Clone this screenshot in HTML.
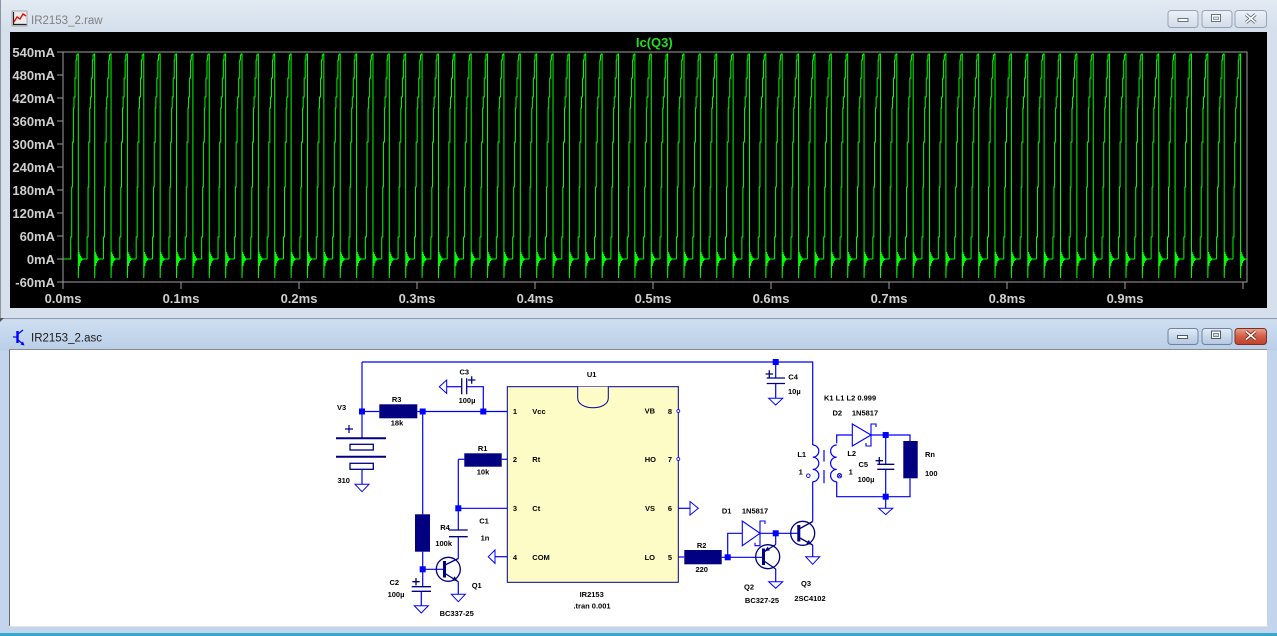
<!DOCTYPE html>
<html><head><meta charset="utf-8">
<style>
html,body{margin:0;padding:0;width:1277px;height:636px;overflow:hidden;background:#c4d6ec}
svg{display:block}
.w{stroke:#0000ff;stroke-width:1.2;fill:none}
.n{stroke:#000080;stroke-width:1.3;fill:none}
.g{stroke:#0000ff;stroke-width:1;fill:none}
.t{font-family:"Liberation Sans",sans-serif;font-weight:bold;font-size:7.5px;fill:#000}
.ax{font-family:"Liberation Sans",sans-serif;font-weight:bold;font-size:13px;fill:#cfcfcf}
.j{fill:#0000ff}
</style></head>
<body>
<svg width="1277" height="636" viewBox="0 0 1277 636" xmlns="http://www.w3.org/2000/svg">
<defs>
<linearGradient id="tI" x1="0" y1="0" x2="0" y2="1"><stop offset="0" stop-color="#e3eaf3"/><stop offset="1" stop-color="#d4dfeb"/></linearGradient>
<linearGradient id="tA" x1="0" y1="0" x2="0" y2="1"><stop offset="0" stop-color="#cfdff1"/><stop offset="1" stop-color="#b9cee7"/></linearGradient>
<linearGradient id="bI" x1="0" y1="0" x2="0" y2="1"><stop offset="0" stop-color="#eef2f7"/><stop offset="0.5" stop-color="#dfe6ef"/><stop offset="1" stop-color="#d3dce8"/></linearGradient>
<linearGradient id="bA" x1="0" y1="0" x2="0" y2="1"><stop offset="0" stop-color="#e4edf8"/><stop offset="0.5" stop-color="#c9d8ea"/><stop offset="1" stop-color="#b4c8e1"/></linearGradient>
<linearGradient id="bC" x1="0" y1="0" x2="0" y2="1"><stop offset="0" stop-color="#e9a28f"/><stop offset="0.5" stop-color="#d25d46"/><stop offset="1" stop-color="#c0412b"/></linearGradient>
<clipPath id="plot"><rect x="63" y="40" width="1184" height="250"/></clipPath>
<path id="pl" d="M70.7,259 v-22h1v-50h.7v-45h1v-34h.6v-11h1v-19h1v-18h.7v-5h1v-1h.6v224l.4-19l.3-7l.4 14l.4-12l.4 9l.5-7l.5 5l.5-3l.5 1.5l.5-.5h4.37" fill="none" stroke="#00ff00" stroke-width="1"/>
<g id="p8">
<use href="#pl" x="0"/><use href="#pl" x="16.37"/><use href="#pl" x="32.74"/><use href="#pl" x="49.11"/>
<use href="#pl" x="65.48"/><use href="#pl" x="81.85"/><use href="#pl" x="98.22"/><use href="#pl" x="114.59"/>
</g>
</defs>

<!-- ===== Top window (inactive) ===== -->
<rect x="0" y="0" width="1277" height="319" fill="#d6e0ec"/>
<rect x="0" y="0" width="1277" height="32" fill="url(#tI)"/>
<line x1="0.5" y1="0" x2="0.5" y2="319" stroke="#8c96a3"/>
<line x1="0" y1="318.5" x2="1277" y2="318.5" stroke="#8e9cb0"/>
<rect x="12" y="11" width="15" height="15" fill="#ececec" stroke="#9a9a9a" stroke-width="0.8"/>
<path d="M13.5,12 V24.5 H26.5" stroke="#202020" stroke-width="1.2" fill="none"/>
<path d="M14,22 L17,17 L20,19 L23,14 L26,16" stroke="#e01010" stroke-width="1.4" fill="none"/>
<text x="31" y="24" font-family="'Liberation Sans',sans-serif" font-size="11.5" fill="#808080">IR2153_2.raw</text>
<rect x="1168" y="10.5" width="30" height="17" rx="3" fill="url(#bI)" stroke="#95a3b8"/>
<rect x="1178" y="18.5" width="10" height="3" fill="#fff" stroke="#5a6678" stroke-width="0.9"/>
<rect x="1202" y="10.5" width="30" height="17" rx="3" fill="url(#bI)" stroke="#95a3b8"/>
<rect x="1211.5" y="14.5" width="9" height="7" fill="#fff" stroke="#5a6678" stroke-width="0.9"/>
<rect x="1213.5" y="17" width="5" height="2.5" fill="#dfe6ef" stroke="#5a6678" stroke-width="0.6"/>
<rect x="1235" y="10.5" width="31.5" height="17" rx="3" fill="url(#bI)" stroke="#95a3b8"/>
<path d="M1246,14.5 L1255.5,22.5 M1255.5,14.5 L1246,22.5" stroke="#5a6678" stroke-width="3.2"/>
<path d="M1246,14.5 L1255.5,22.5 M1255.5,14.5 L1246,22.5" stroke="#fff" stroke-width="1.6"/>

<rect x="10" y="32" width="1257" height="276" fill="#000"/>
<rect x="63" y="52" width="1184" height="230" fill="none" stroke="#a0a0a0" stroke-width="1"/>
<text x="654.3" y="47" text-anchor="middle" font-family="'Liberation Sans',sans-serif" font-weight="bold" font-size="13" fill="#22e022">Ic(Q3)</text>
<g stroke="#a0a0a0" stroke-width="1">
<path d="M57,52H63M57,75H63M57,98H63M57,121H63M57,144H63M57,167H63M57,190H63M57,213H63M57,236H63M57,259H63M57,282H63"/>
<path d="M63,282V289M181,282V289M299,282V289M417,282V289M535,282V289M653,282V289M771,282V289M889,282V289M1007,282V289M1125,282V289M1243,282V289"/>
</g>
<g class="ax" text-anchor="end">
<text x="55" y="57">540mA</text><text x="55" y="80">480mA</text><text x="55" y="103">420mA</text>
<text x="55" y="126">360mA</text><text x="55" y="149">300mA</text><text x="55" y="172">240mA</text>
<text x="55" y="195">180mA</text><text x="55" y="218">120mA</text><text x="55" y="241">60mA</text>
<text x="55" y="264">0mA</text><text x="55" y="287">-60mA</text>
</g>
<g class="ax" text-anchor="middle">
<text x="63" y="303">0.0ms</text><text x="181" y="303">0.1ms</text><text x="299" y="303">0.2ms</text>
<text x="417" y="303">0.3ms</text><text x="535" y="303">0.4ms</text><text x="653" y="303">0.5ms</text>
<text x="771" y="303">0.6ms</text><text x="889" y="303">0.7ms</text><text x="1007" y="303">0.8ms</text>
<text x="1125" y="303">0.9ms</text>
</g>
<g clip-path="url(#plot)">
<line x1="63" y1="259" x2="71" y2="259" stroke="#00ff00" stroke-width="1"/>
<use href="#p8" x="0"/><use href="#p8" x="130.96"/><use href="#p8" x="261.92"/>
<use href="#p8" x="392.88"/><use href="#p8" x="523.84"/><use href="#p8" x="654.8"/>
<use href="#p8" x="785.76"/><use href="#p8" x="916.72"/><use href="#p8" x="1047.68"/>
</g>

<!-- ===== Bottom window (active) ===== -->
<rect x="0" y="319" width="1277" height="317" fill="#c2d5ec"/>
<rect x="0" y="319.5" width="1277" height="31" fill="url(#tA)"/>
<path d="M0,318 L4,318 L0,322Z" fill="#555"/>
<g stroke="#0000ff" fill="none">
<line x1="13" y1="337" x2="17" y2="337" stroke-width="1.2"/>
<line x1="17.5" y1="331" x2="17.5" y2="343" stroke-width="2.4"/>
<line x1="18" y1="334" x2="23" y2="330" stroke-width="1.2"/>
<line x1="18" y1="340" x2="23" y2="344" stroke-width="1.2"/>
</g>
<path d="M24.5,345.5 L20.5,344.5 L23,341.5Z" fill="#0000ff"/>
<text x="31" y="341.5" font-family="'Liberation Sans',sans-serif" font-size="11.5" fill="#1a1a1a">IR2153_2.asc</text>
<rect x="1168" y="328.5" width="30" height="16" rx="3" fill="url(#bA)" stroke="#6f83a0"/>
<rect x="1177.5" y="335.5" width="10" height="3" fill="#fff" stroke="#3c4a60" stroke-width="0.9"/>
<rect x="1202" y="328.5" width="30" height="16" rx="3" fill="url(#bA)" stroke="#6f83a0"/>
<rect x="1211.5" y="331" width="9" height="7.5" fill="#fff" stroke="#3c4a60" stroke-width="0.9"/>
<rect x="1213.5" y="333.5" width="5" height="3" fill="#c9d8ea" stroke="#3c4a60" stroke-width="0.6"/>
<rect x="1235" y="328.5" width="31.5" height="16" rx="3" fill="url(#bC)" stroke="#7d3123"/>
<path d="M1246,331.5 L1255.5,339.5 M1255.5,331.5 L1246,339.5" stroke="#6b2417" stroke-width="3.2"/>
<path d="M1246,331.5 L1255.5,339.5 M1255.5,331.5 L1246,339.5" stroke="#fff" stroke-width="1.6"/>
<rect x="10" y="350" width="1257" height="276" fill="#fff"/>
<line x1="9.5" y1="349" x2="9.5" y2="626" stroke="#6a6a6a"/>
<line x1="9" y1="349.5" x2="1267" y2="349.5" stroke="#8a8a8a"/>
<line x1="9" y1="626.5" x2="1268" y2="626.5" stroke="#e4e4e4"/>
<rect x="0" y="633" width="1277" height="3" fill="#35a8d0"/>

<!-- ===== Schematic ===== -->
<rect x="507.3" y="386.7" width="171" height="195.6" fill="#fefcc6" stroke="#000090" stroke-width="1"/>
<path d="M577.7,386.7 V398 C577.7,411 608.3,411 608.3,398 V386.7" fill="#fefcc6" stroke="#000090" stroke-width="1"/>

<g class="w">
<path d="M362,362 H812.7 V445"/>
<path d="M362,362 V438"/>
<path d="M362,411.5 H379.3"/>
<path d="M417.3,411.5 H507.3"/>
<path d="M483.3,411.5 V386.7 H466.7"/>
<path d="M461.7,386.7 H446.7"/>
<path d="M362,469.3 V484.3"/>
<path d="M422.7,411.5 V514.3"/>
<path d="M422.7,551.7 V586.7"/>
<path d="M421.3,591.3 V605.7"/>
<path d="M422.7,569.3 H444"/>
<path d="M458.3,459.3 H464.3"/>
<path d="M501.7,459.3 H507.3"/>
<path d="M458.3,459.3 V530"/>
<path d="M458.3,508.3 H507.3"/>
<path d="M458.3,536.7 V558.5"/>
<path d="M458.3,581.7 V594.3"/>
<path d="M495,556.7 H507.3"/>
<path d="M678.3,508.3 H690"/>
<path d="M678.3,557 H684.3"/>
<path d="M721.7,557.3 H763"/>
<path d="M727.7,557.3 V533.3 H742.3"/>
<path d="M760,533.3 H798.3"/>
<path d="M775.7,533.3 V544.5"/>
<path d="M775.7,569 V581.7"/>
<path d="M775.7,362 V378"/>
<path d="M775.7,383.5 V398.3"/>
<path d="M812.7,481.7 V521.5"/>
<path d="M812.7,545 V556.7"/>
<path d="M836.7,443.3 V435 H852.3"/>
<path d="M871,435 H910 V441"/>
<path d="M836.7,481.7 V496.7 H910 V478.3"/>
<path d="M885.7,435 V464.3"/>
<path d="M885.7,469.3 V508.3"/>
<path d="M812.7,445 a6,6 0 0 1 0,12.2 a6,6 0 0 1 0,12.2 a6,6 0 0 1 0,12.3"/>
<path d="M836.7,445 a6,6 0 0 0 0,12.2 a6,6 0 0 0 0,12.2 a6,6 0 0 0 0,12.3"/>
</g>
<path d="M824,450 V461.5 M824,470 V483.3" stroke="#0000ff" stroke-width="1.2"/>
<circle cx="808.3" cy="475.7" r="1.8" fill="none" stroke="#0000ff" stroke-width="0.9"/>
<circle cx="839.5" cy="475.7" r="2.2" fill="none" stroke="#0000ff" stroke-width="0.9"/>
<path d="M838,474.2 L841,477.2 M841,474.2 L838,477.2" stroke="#0000ff" stroke-width="0.8"/>

<g class="g">
<path d="M355,484.3 H369 L362,491.7Z"/>
<path d="M439.3,386.7 L446.7,380 V393.4Z"/>
<path d="M414.3,605.7 H428.3 L421.3,613Z"/>
<path d="M451.3,594.3 H465.3 L458.3,601.7Z"/>
<path d="M488.3,556.7 L495,550 V563.4Z"/>
<path d="M690,501.5 V515.1 L698.3,508.3Z"/>
<path d="M768.7,398.3 H782.7 L775.7,405Z"/>
<path d="M768.7,581.7 H782.7 L775.7,588.3Z"/>
<path d="M805.7,556.7 H819.7 L812.7,564.3Z"/>
<path d="M878.7,508.3 H892.7 L885.7,514.6Z"/>
</g>

<g fill="#000080">
<rect x="379.3" y="404.3" width="38" height="14"/>
<rect x="415" y="514.3" width="15" height="37.4"/>
<rect x="464.3" y="453.3" width="37.4" height="13.4"/>
<rect x="684.3" y="550" width="37.4" height="14.3"/>
<rect x="903.3" y="441" width="14.4" height="37.3"/>
</g>

<g class="n">
<path d="M336,438.3 H386" stroke-width="2"/>
<rect x="350" y="444.3" width="23.3" height="5.7"/>
<path d="M336,456.7 H386" stroke-width="2"/>
<rect x="350" y="463.3" width="23.3" height="6"/>
<path d="M345,429 H353 M349,425 V433" stroke-width="1.2"/>
</g>
<g class="n" stroke-width="2">
<path d="M461.7,378.3 V394.3 M466.7,378.3 V394.3"/>
<path d="M449,530 H467.7 M449,536.7 H467.7"/>
<path d="M411.7,586.7 H431 M411.7,591.3 H431"/>
<path d="M766.7,378 H785 M766.7,383.5 H785"/>
<path d="M877.3,464.3 H894.3 M877.3,469.3 H894.3"/>
</g>
<g class="n" stroke-width="1.1">
<path d="M468,380 H475.4 M471.7,376.3 V383.7"/>
<path d="M412.3,581.7 H419.7 M416,578 V585.4"/>
<path d="M765.6,374 H773 M769.3,370.3 V377.7"/>
<path d="M875.6,460.7 H883 M879.3,457 V464.4"/>
</g>

<g stroke="#0000ff" stroke-width="1.1" fill="none">
<path d="M742.3,521 V545.7 L760,533.3Z"/>
<path d="M765,524 V521 H760 V545.7 H755 V542.7"/>
<path d="M852.3,424 V446 L871,435Z"/>
<path d="M876,427 V424 H871 V446 H866 V443"/>
</g>

<g class="n">
<circle cx="448.3" cy="569.3" r="12"/>
<path d="M444.5,561 V577.5" stroke-width="3"/>
<path d="M445,565 L458.3,558.5 M445,573.5 L458.3,581.7"/>
<circle cx="767.7" cy="556.7" r="12"/>
<path d="M763.5,548.5 V565" stroke-width="3"/>
<path d="M764,552 L775.7,544.5 M764,561 L775.7,569"/>
<circle cx="802.7" cy="533.3" r="12"/>
<path d="M798.8,525 V541.5" stroke-width="3"/>
<path d="M799,529 L812.7,521.5 M799,537.5 L812.7,545"/>
</g>
<g fill="#000080">
<path d="M457.5,581 L451.9,580.5 L454.6,576.2Z"/>
<path d="M811.8,544.5 L806.2,544.3 L808.7,539.9Z"/>
<path d="M764.5,551.3 L767.7,546.6 L769.9,550.4Z"/>
</g>

<circle cx="678.3" cy="411" r="1.5" fill="#fff" stroke="#0000ff" stroke-width="0.8"/>
<circle cx="678.3" cy="459" r="1.5" fill="#fff" stroke="#0000ff" stroke-width="0.8"/>

<g class="j">
<rect x="359" y="408.5" width="6" height="6"/>
<rect x="419.7" y="408.5" width="6" height="6"/>
<rect x="480.3" y="408.5" width="6" height="6"/>
<rect x="455.3" y="505.3" width="6" height="6"/>
<rect x="419.7" y="566.3" width="6" height="6"/>
<rect x="772.7" y="359" width="6" height="6"/>
<rect x="724.7" y="554.3" width="6" height="6"/>
<rect x="772.7" y="530.3" width="6" height="6"/>
<rect x="882.7" y="432" width="6" height="6"/>
<rect x="882.7" y="493.7" width="6" height="6"/>
</g>

<g class="t">
<text x="337" y="410">V3</text>
<text x="396.7" y="402" text-anchor="middle">R3</text>
<text x="397" y="425.5" text-anchor="middle">18k</text>
<text x="343.7" y="483" text-anchor="middle">310</text>
<text x="464.3" y="374.5" text-anchor="middle">C3</text>
<text x="467" y="403" text-anchor="middle">100µ</text>
<text x="482.7" y="451" text-anchor="middle">R1</text>
<text x="483" y="474.5" text-anchor="middle">10k</text>
<text x="484" y="523.5" text-anchor="middle">C1</text>
<text x="485" y="540.5" text-anchor="middle">1n</text>
<text x="445" y="530" text-anchor="middle">R4</text>
<text x="443.7" y="546" text-anchor="middle">100k</text>
<text x="394.3" y="585" text-anchor="middle">C2</text>
<text x="396" y="597" text-anchor="middle">100µ</text>
<text x="476.7" y="588" text-anchor="middle">Q1</text>
<text x="456.7" y="616" text-anchor="middle">BC337-25</text>
<text x="591.7" y="377" text-anchor="middle">U1</text>
<text x="591.7" y="597" text-anchor="middle">IR2153</text>
<text x="592" y="608.5" text-anchor="middle">.tran 0.001</text>
<text x="701.7" y="548" text-anchor="middle">R2</text>
<text x="701.7" y="572" text-anchor="middle">220</text>
<text x="788.3" y="379.5">C4</text>
<text x="788" y="394">10µ</text>
<text x="824" y="400.5">K1 L1 L2 0.999</text>
<text x="837.3" y="415.5" text-anchor="middle">D2</text>
<text x="865" y="415.5" text-anchor="middle">1N5817</text>
<text x="801.7" y="457" text-anchor="middle">L1</text>
<text x="800.7" y="474.5" text-anchor="middle">1</text>
<text x="851.7" y="456" text-anchor="middle">L2</text>
<text x="850.7" y="474.5" text-anchor="middle">1</text>
<text x="863.3" y="467" text-anchor="middle">C5</text>
<text x="866" y="482" text-anchor="middle">100µ</text>
<text x="925" y="457">Rn</text>
<text x="925" y="476">100</text>
<text x="726.7" y="513.5" text-anchor="middle">D1</text>
<text x="755" y="513.5" text-anchor="middle">1N5817</text>
<text x="749" y="589.5" text-anchor="middle">Q2</text>
<text x="762" y="603" text-anchor="middle">BC327-25</text>
<text x="806" y="586" text-anchor="middle">Q3</text>
<text x="810" y="601" text-anchor="middle">2SC4102</text>
<text x="515" y="414" text-anchor="middle">1</text>
<text x="515" y="462" text-anchor="middle">2</text>
<text x="515" y="511" text-anchor="middle">3</text>
<text x="515" y="560" text-anchor="middle">4</text>
<text x="532.3" y="414">Vcc</text>
<text x="532.3" y="462">Rt</text>
<text x="532.3" y="511">Ct</text>
<text x="532.3" y="560">COM</text>
<text x="655" y="413.5" text-anchor="end">VB</text>
<text x="656" y="462" text-anchor="end">HO</text>
<text x="655" y="511" text-anchor="end">VS</text>
<text x="655" y="560" text-anchor="end">LO</text>
<text x="670" y="414" text-anchor="middle">8</text>
<text x="670" y="462" text-anchor="middle">7</text>
<text x="670" y="511" text-anchor="middle">6</text>
<text x="670" y="560" text-anchor="middle">5</text>
</g>
</svg>
</body></html>
